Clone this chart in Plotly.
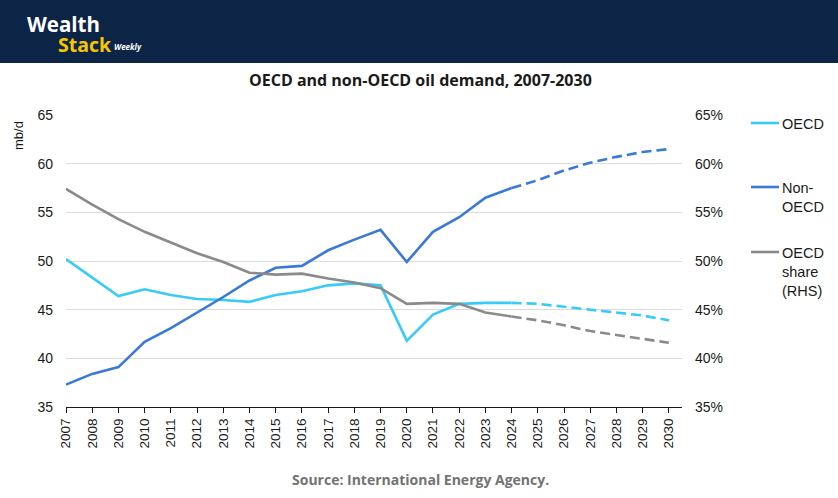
import plotly.graph_objects as go

years = list(range(2007, 2031))
oecd = [50.2, 48.3, 46.4, 47.1, 46.5, 46.1, 46.0, 45.8, 46.5, 46.9, 47.5, 47.7, 47.5,
        41.8, 44.5, 45.6, 45.7, 45.7, 45.6, 45.3, 45.0, 44.7, 44.4, 43.9]
non_oecd = [37.3, 38.4, 39.1, 41.7, 43.1, 44.7, 46.3, 48.0, 49.3, 49.5, 51.1, 52.2, 53.2,
            49.9, 53.0, 54.5, 56.5, 57.5, 58.3, 59.3, 60.1, 60.7, 61.2, 61.5]
oecd_share = [57.4, 55.8, 54.3, 53.0, 51.9, 50.8, 49.9, 48.8, 48.6, 48.7, 48.2, 47.8, 47.2,
              45.6, 45.7, 45.6, 44.7, 44.3, 43.9, 43.4, 42.8, 42.4, 42.0, 41.6]
forecast_start = 2024

title_text = "OECD and non-OECD oil demand, 2007-2030"
source_text = "Source: International Energy Agency."
legend_names = ["OECD", "Non-<br>OECD", "OECD<br>share<br>(RHS)"]

C_OECD = "#38CBF8"
C_NON = "#3A79D6"
C_SHARE = "#8A8A8A"
DASH = "10px,5px"

i0 = years.index(forecast_start)
fig = go.Figure()

def add(y, color, yaxis):
    fig.add_trace(go.Scatter(x=years[:i0 + 1], y=y[:i0 + 1], mode="lines",
                             line=dict(color=color, width=2.6), yaxis=yaxis,
                             showlegend=False, hoverinfo="skip"))
    fig.add_trace(go.Scatter(x=years[i0:], y=y[i0:], mode="lines",
                             line=dict(color=color, width=2.6, dash=DASH), yaxis=yaxis,
                             showlegend=False, hoverinfo="skip"))

add(oecd, C_OECD, "y")
add(non_oecd, C_NON, "y")
add(oecd_share, C_SHARE, "y2")

L, R, T, B = 66, 156, 115, 91
W, H = 838, 498
pw, ph = W - L - R, H - T - B

def px(x):
    return (x - L) / pw

def py(y):
    return (H - B - y) / ph

tickfont = dict(family="Liberation Sans, Arial, sans-serif", size=14, color="#1a1a1a")

fig.update_layout(
    width=W, height=H,
    margin=dict(l=L, r=R, t=T, b=B),
    paper_bgcolor="white", plot_bgcolor="white",
    showlegend=False,
    xaxis=dict(range=[2007, 2030.5], tickvals=years, ticktext=[str(y) for y in years],
               tickangle=-90, tickfont=dict(family="Liberation Sans, Arial, sans-serif", size=13.5, color="#1a1a1a"),
               showgrid=False, zeroline=False, showline=True, linecolor="#1a1a1a", linewidth=1.3,
               ticks="outside", ticklen=5, tickcolor="#1a1a1a", tickwidth=1.3),
    yaxis=dict(range=[35, 65], dtick=5, tick0=35, showgrid=True, gridcolor="#dcdcdc", gridwidth=1.3,
               zeroline=False, showline=False, tickfont=tickfont, ticklabelstandoff=12),
    yaxis2=dict(range=[35, 65], dtick=5, tick0=35, overlaying="y", side="right", showgrid=False,
                zeroline=False, showline=False, ticksuffix="%", tickfont=tickfont, ticklabelstandoff=12),
)

# header band
fig.add_shape(type="rect", xref="paper", yref="paper", x0=px(0), x1=px(W), y0=py(63), y1=py(0),
              fillcolor="#0C2445", line=dict(width=0), layer="below")

ann = []
ann.append(dict(text="<b>Wealth</b>", x=px(25), y=py(24), xanchor="left", yanchor="middle",
                font=dict(family="Open Sans", size=20.5, color="white")))
ann.append(dict(text="<b>Stack</b>", x=px(56), y=py(44), xanchor="left", yanchor="middle",
                font=dict(family="Open Sans", size=19.5, color="#F7C600")))
ann.append(dict(text="<b><i>Weekly</i></b>", x=px(112), y=py(47), xanchor="left", yanchor="middle",
                font=dict(family="Open Sans", size=8, color="white")))
ann.append(dict(text="<b>" + title_text + "</b>", x=px(420), y=py(80), xanchor="center", yanchor="middle",
                font=dict(family="Open Sans", size=16, color="#1a1a1a")))
ann.append(dict(text="<b>" + source_text + "</b>", x=px(420), y=py(479), xanchor="center", yanchor="middle",
                font=dict(family="Open Sans", size=14, color="#737373")))
ann.append(dict(text="mb/d", x=px(18), y=py(136), xanchor="center", yanchor="middle", textangle=-90,
                font=dict(family="Liberation Sans, Arial, sans-serif", size=13, color="#1a1a1a")))

# manual legend
leg_y = [123, 187, 252]
for name, color, yy in zip(legend_names, [C_OECD, C_NON, C_SHARE], leg_y):
    fig.add_shape(type="line", xref="paper", yref="paper", x0=px(751), x1=px(779), y0=py(yy), y1=py(yy),
                  line=dict(color=color, width=2.6))
    ann.append(dict(text=name, x=px(780), y=py(yy - 9), xanchor="left", yanchor="top", align="left",
                    font=dict(family="Liberation Sans, Arial, sans-serif", size=14.5, color="#1a1a1a")))

for a in ann:
    a.update(xref="paper", yref="paper", showarrow=False)
fig.update_layout(annotations=ann)

fig.write_html("out.html", config={"displayModeBar": False},
               post_script="document.body.style.margin='0';document.body.style.padding='0';")
